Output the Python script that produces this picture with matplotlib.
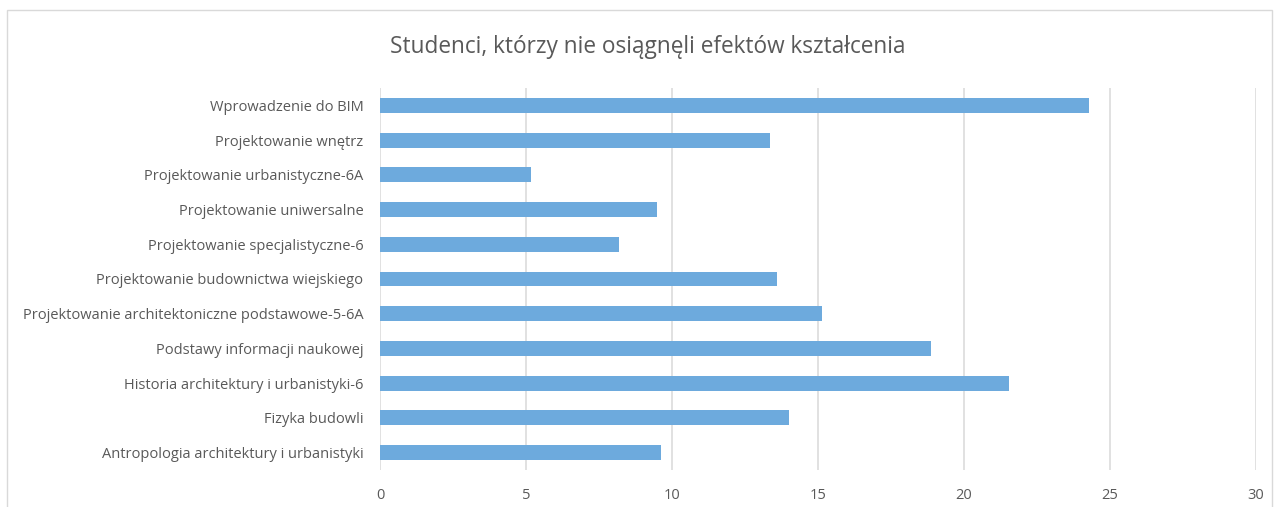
import matplotlib.pyplot as plt
from matplotlib.patches import Rectangle

plt.rcParams['font.family'] = ['Open Sans', 'DejaVu Sans']

# 数据（从下到上）
courses = [
    'Antropologia architektury i urbanistyki',
    'Fizyka budowli',
    'Historia architektury i urbanistyki-6',
    'Podstawy informacji naukowej',
    'Projektowanie architektoniczne podstawowe-5-6A',
    'Projektowanie budownictwa wiejskiego',
    'Projektowanie specjalistyczne-6',
    'Projektowanie uniwersalne',
    'Projektowanie urbanistyczne-6A',
    'Projektowanie wnętrz',
    'Wprowadzenie do BIM',
]
values = [9.63, 14.02, 21.53, 18.86, 15.15, 13.58, 8.19, 9.5, 5.18, 13.34, 24.27]
x_ticks = [0, 5, 10, 15, 20, 25, 30]
title = 'Studenci, którzy nie osiągnęli efektów kształcenia'

fig = plt.figure(figsize=(12.75, 5.07), dpi=100)
# 外框
fig.patches.append(Rectangle((7 / 1275, -0.05), 1265 / 1275, 1 - 10 / 507 + 0.05,
                             transform=fig.transFigure, fill=False,
                             edgecolor='#D9D9D9', linewidth=1.0))

ax = fig.add_axes([380 / 1275, 1 - 470 / 507, 876 / 1275, 382 / 507])
ax.barh(range(len(courses)), values, height=0.43, color='#6DAADD', zorder=3)

ax.set_xlim(0, 30)
ax.set_ylim(-0.5, len(courses) - 0.5)
ax.set_xticks(x_ticks)
ax.set_xticklabels([str(t) for t in x_ticks])
ax.set_yticks(range(len(courses)))
ax.set_yticklabels(courses)
ax.grid(axis='x', color='#D9D9D9', linewidth=1.1, zorder=0)
for s in ax.spines.values():
    s.set_visible(False)
ax.tick_params(axis='both', length=0, labelsize=10.5, colors='#595959')
ax.tick_params(axis='x', pad=13)
ax.tick_params(axis='y', pad=12)

fig.text(648 / 1275, 1 - 47 / 507, title, ha='center', va='center',
         fontsize=16.3, color='#595959')

fig.savefig('out.png', dpi=100)
